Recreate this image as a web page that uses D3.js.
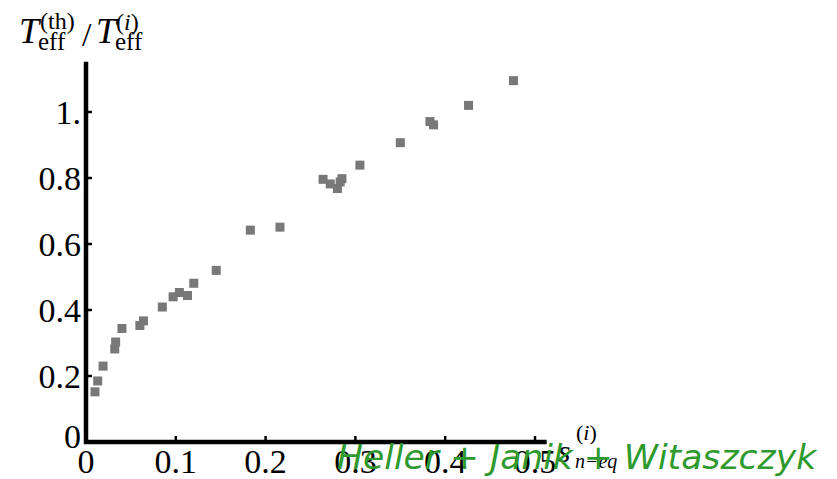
<!DOCTYPE html>
<html>
<head>
<meta charset="utf-8">
<script src="https://cdn.jsdelivr.net/npm/d3@7"></script>
<style>
  html, body { margin: 0; padding: 0; background: #ffffff; }
  svg { display: block; }
</style>
</head>
<body>
<svg id="chart" width="837" height="479"></svg>
<script>
// Entropy per nucleon at equilibration vs. effective temperature ratio
const sNeq = [0.010, 0.013, 0.019, 0.032, 0.033, 0.040, 0.060, 0.064, 0.085, 0.097,
              0.104, 0.113, 0.120, 0.145, 0.183, 0.216, 0.264, 0.272, 0.280, 0.283,
              0.285, 0.305, 0.350, 0.383, 0.387, 0.426, 0.476];
const tRatio = [0.152, 0.185, 0.230, 0.282, 0.303, 0.344, 0.353, 0.367, 0.409, 0.440,
                0.453, 0.444, 0.481, 0.520, 0.642, 0.651, 0.796, 0.782, 0.768, 0.788,
                0.798, 0.839, 0.907, 0.971, 0.961, 1.020, 1.095];

const xTicks = [0, 0.1, 0.2, 0.3, 0.4, 0.5];
const xTickLabels = ["0", "0.1", "0.2", "0.3", "0.4", "0.5"];
const yTicks = [0, 0.2, 0.4, 0.6, 0.8, 1.0];
const yTickLabels = ["0", "0.2", "0.4", "0.6", "0.8", "1."];

const svg = d3.select("#chart");
const serif = "'Liberation Serif', 'Times New Roman', serif";

const x = d3.scaleLinear().domain([0, 0.5]).range([86, 535]);
const y = d3.scaleLinear().domain([0, 1]).range([442, 112]);
const xMax = 0.513, yMax = 1.152;

// points
svg.append("g")
  .selectAll("rect")
  .data(sNeq.map((s, i) => [s, tRatio[i]]))
  .join("rect")
  .attr("x", d => x(d[0]) - 4.5)
  .attr("y", d => y(d[1]) - 4.5)
  .attr("width", 9)
  .attr("height", 9)
  .attr("fill", "#787878");

// axes
const axes = svg.append("g").attr("stroke", "#000");
axes.append("line")
  .attr("x1", x(0) - 2).attr("x2", x(xMax))
  .attr("y1", y(0)).attr("y2", y(0))
  .attr("stroke-width", 4.5);
axes.append("line")
  .attr("x1", x(0)).attr("x2", x(0))
  .attr("y1", y(0) + 2).attr("y2", y(yMax))
  .attr("stroke-width", 4.5);

axes.selectAll(".xt").data(xTicks.slice(1)).join("line")
  .attr("x1", d => x(d)).attr("x2", d => x(d))
  .attr("y1", y(0)).attr("y2", y(0) - 6)
  .attr("stroke-width", 2.5);
axes.selectAll(".yt").data(yTicks.slice(1)).join("line")
  .attr("x1", x(0)).attr("x2", x(0) + 6)
  .attr("y1", d => y(d)).attr("y2", d => y(d))
  .attr("stroke-width", 2.5);

// tick labels
svg.append("g").selectAll("text").data(xTicks).join("text")
  .attr("x", d => x(d))
  .attr("y", 473)
  .attr("text-anchor", "middle")
  .attr("font-family", serif)
  .attr("font-size", 34)
  .attr("fill", "#000")
  .text((d, i) => xTickLabels[i]);

svg.append("g").selectAll("text").data(yTicks).join("text")
  .attr("x", 81)
  .attr("y", d => d === 0 ? y(d) + 6 : y(d) + 12)
  .attr("text-anchor", "end")
  .attr("font-family", serif)
  .attr("font-size", 34)
  .attr("fill", "#000")
  .text((d, i) => yTickLabels[i]);

// y axis title: T_eff^(th) / T_eff^(i)
const title = svg.append("g").attr("font-family", serif).attr("fill", "#000");
title.append("text").attr("x", 19).attr("y", 43).attr("font-size", 36)
  .attr("font-style", "italic").text("T");
title.append("text").attr("x", 40).attr("y", 29).attr("font-size", 24).text("(th)");
title.append("text").attr("x", 38).attr("y", 50).attr("font-size", 25).text("eff");
title.append("text").attr("x", 82).attr("y", 46).attr("font-size", 34).text("/");
title.append("text").attr("x", 96).attr("y", 43).attr("font-size", 36)
  .attr("font-style", "italic").text("T");
const sup = title.append("text").attr("x", 116).attr("y", 30).attr("font-size", 24);
sup.append("tspan").text("(");
sup.append("tspan").attr("font-style", "italic").text("i");
sup.append("tspan").text(")");
title.append("text").attr("x", 115).attr("y", 50).attr("font-size", 25).text("eff");

// x axis title: s_{n-eq}^(i)
const xt = svg.append("g").attr("font-family", serif).attr("fill", "#000");
xt.append("text").attr("x", 558).attr("y", 462).attr("font-size", 32)
  .attr("font-style", "italic").text("s");
const xsup = xt.append("text").attr("x", 576).attr("y", 440).attr("font-size", 22);
xsup.append("tspan").text("(");
xsup.append("tspan").attr("font-style", "italic").text("i");
xsup.append("tspan").text(")");
xt.append("text").attr("x", 575).attr("y", 468).attr("font-size", 20)
  .attr("font-style", "italic").text("n\u2212eq");

// credit line
svg.append("text")
  .attr("x", 337)
  .attr("y", 469)
  .attr("font-family", "'DejaVu Sans', sans-serif")
  .attr("font-style", "italic")
  .attr("font-size", 34.6)
  .attr("fill", "#2e9a2e")
  .text("Heller + Janik + Witaszczyk");
</script>
</body>
</html>
